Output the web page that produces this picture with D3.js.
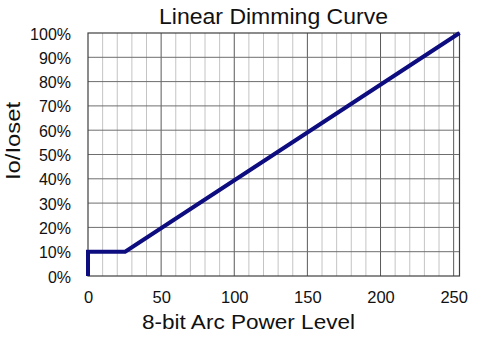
<!DOCTYPE html>
<html>
<head>
<meta charset="utf-8">
<script src="https://cdn.jsdelivr.net/npm/d3@7"></script>
<style>
  html, body { margin: 0; padding: 0; background: #fff; }
  svg { display: block; font-family: "Liberation Sans", Arial, sans-serif; }
</style>
</head>
<body>
<svg id="chart" width="477" height="338"></svg>
<script>
// Dimming curve: arc power level (0–254) against output current Io/Ioset (%)
const arcLevels = [0, 0, 25.4, 254];
const outputPct = [0, 10, 10, 100];

const xTicks = [0, 50, 100, 150, 200, 250];
const yTicks = [0, 10, 20, 30, 40, 50, 60, 70, 80, 90, 100];
const xMinorGrid = d3.range(10, 251, 10);

const titleText = "Linear Dimming Curve";
const xTitleText = "8-bit Arc Power Level";
const yTitleText = "Io/Ioset";

const svg = d3.select("#chart");
const plot = { left: 88, right: 459.5, top: 33, bottom: 276 };

const x = d3.scaleLinear().domain([0, 254]).range([plot.left, plot.right]);
const y = d3.scaleLinear().domain([0, 100]).range([plot.bottom, plot.top]);

// vertical grid: light every 10, dark every 50
svg.append("g")
  .selectAll("line")
  .data(xMinorGrid)
  .join("line")
  .attr("x1", d => x(d)).attr("x2", d => x(d))
  .attr("y1", plot.top).attr("y2", plot.bottom)
  .attr("stroke", d => d % 50 === 0 ? "#5a5a5a" : "#c4c4c4")
  .attr("stroke-width", 1);

// horizontal grid every 10%
svg.append("g")
  .selectAll("line")
  .data(yTicks.filter(d => d > 0 && d < 100))
  .join("line")
  .attr("x1", plot.left).attr("x2", plot.right)
  .attr("y1", d => y(d)).attr("y2", d => y(d))
  .attr("stroke", "#6e6e6e")
  .attr("stroke-width", 1);

// plot frame
svg.append("rect")
  .attr("x", plot.left).attr("y", plot.top)
  .attr("width", plot.right - plot.left)
  .attr("height", plot.bottom - plot.top)
  .attr("fill", "none")
  .attr("stroke", "#404040")
  .attr("stroke-width", 1.2);

// axes (labels only, no tick marks)
const xAxis = d3.axisBottom(x).tickValues(xTicks).tickSize(0).tickPadding(0).tickFormat(d3.format("d"));
const yAxis = d3.axisLeft(y).tickValues(yTicks).tickSize(0).tickPadding(0).tickFormat(d => d + "%");

const gx = svg.append("g").attr("transform", `translate(0,${plot.bottom})`).call(xAxis);
gx.select(".domain").remove();
gx.selectAll("text")
  .attr("y", 27).attr("dy", 0)
  .attr("font-size", 16.5).attr("fill", "#111")
  .attr("font-family", "Liberation Sans, Arial, sans-serif");

const gy = svg.append("g").attr("transform", `translate(71,0)`).call(yAxis);
gy.select(".domain").remove();
gy.selectAll("text")
  .attr("x", 0).attr("dy", "0.38em")
  .attr("font-size", 16).attr("fill", "#111")
  .attr("font-family", "Liberation Sans, Arial, sans-serif");

// dimming curve
const pts = arcLevels.map((a, i) => [a, outputPct[i]]);
svg.append("path")
  .datum(pts)
  .attr("d", d3.line().x(d => x(d[0])).y(d => y(d[1])))
  .attr("fill", "none")
  .attr("stroke", "#0d0d80")
  .attr("stroke-width", 4)
  .attr("stroke-linejoin", "miter")
  .attr("stroke-linecap", "butt");

// titles
svg.append("text")
  .attr("x", 159).attr("y", 23.5)
  .attr("font-size", 22).attr("fill", "#111")
  .attr("textLength", 229).attr("lengthAdjust", "spacingAndGlyphs")
  .text(titleText);

svg.append("text")
  .attr("x", 142).attr("y", 329)
  .attr("font-size", 20).attr("fill", "#111")
  .attr("textLength", 213).attr("lengthAdjust", "spacingAndGlyphs")
  .text(xTitleText);

svg.append("text")
  .attr("transform", "translate(19.5,180) rotate(-90)")
  .attr("x", 0).attr("y", 0)
  .attr("font-size", 20).attr("fill", "#111")
  .attr("textLength", 78).attr("lengthAdjust", "spacingAndGlyphs")
  .text(yTitleText);
</script>
</body>
</html>
